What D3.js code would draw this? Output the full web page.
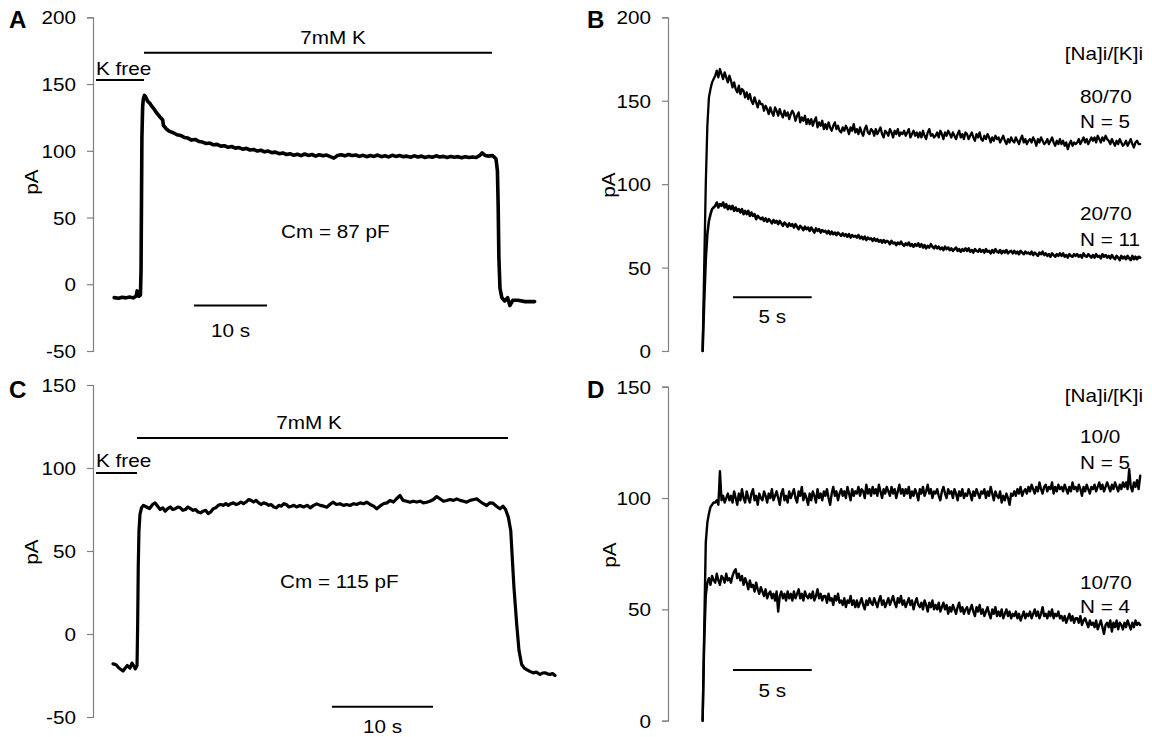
<!DOCTYPE html>
<html><head><meta charset="utf-8">
<script src="https://cdn.jsdelivr.net/npm/d3@7"></script>
<style>
body{margin:0;background:#fff;}
svg text{font-family:"Liberation Sans",Arial,sans-serif;}
</style></head><body>
<svg id="chart" width="1152" height="737"></svg>
<script>
// ---------------- DATA ----------------
// Panel A: whole-cell current (pA) vs time (s)
const traceA = [[2.9,-10],[3.5,-10.5],[4.0,-9.8],[4.5,-10.2],[5.0,-9.5],[5.5,-10.2],[5.9,-9],[6.05,-5],[6.3,-9],[6.5,-8],
[6.58,10],[6.64,60],[6.7,110],[6.8,133],[6.9,139],[7.05,141.5],[7.25,140],[7.5,137],[7.8,135.5],[8.1,133],[8.4,131],
[8.7,128.5],[9.0,126.5],[9.3,124.5],[9.55,123],[9.65,119],[9.9,117.5],
[10.0,116.5],[10.5,114.5],[11.0,113.5],[11.5,112],[12.0,111.5],[12.5,110],[13.0,109.5],[13.5,108],[14.0,108.5],[14.5,107],
[15.0,106.5],[15.5,105.5],[16.0,105.8],[16.5,104.5],[17.0,104.8],[17.5,103.5],[18.0,103.8],[18.5,102.6],[19.0,103.2],[19.5,102],
[20.0,102.4],[20.5,101.2],[21.0,101.8],[21.5,100.6],[22.0,101],[22.5,99.8],[23.0,100.4],[23.5,99.2],[24.0,99.8],[24.5,98.6],
[25.0,99],[25.5,97.8],[26.0,98.4],[26.5,97.2],[27.0,97.8],[27.5,96.6],[28.0,97.4],[28.5,96.4],[29.0,97.6],[29.5,96.5],
[30.0,97.2],[30.5,96],[31.0,97],[31.5,96.2],[32.0,96.8],[32.5,95.6],[33.0,94.5],[33.5,96.4],[34.0,97],[34.5,96.2],
[35.0,97.2],[35.5,96.4],[36.0,96.8],[36.5,95.8],[37.0,96.6],[37.5,95.6],[38.0,96.4],[38.5,95.8],[39.0,96.8],[39.5,95.6],
[40.0,96.2],[40.5,95.4],[41.0,96.6],[41.5,95.8],[42.0,96.4],[42.5,95.6],[43.0,96],[43.5,95.2],[44.0,96.2],[44.5,95.4],
[45.0,96],[45.5,95],[46.0,95.8],[46.5,95.2],[47.0,96.2],[47.5,95.4],[48.0,95.8],[48.5,95],[49.0,95.8],[49.5,95.2],
[50.0,95.6],[50.5,94.8],[51.0,95.6],[51.5,95],[52.0,95.4],[52.5,95],[53.0,96.5],[53.3,98.5],[53.7,96.5],[54.2,96],
[54.7,96.5],[55.2,94],[55.4,85],[55.5,60],[55.6,20],[55.75,-3],[56.0,-10],[56.4,-12.5],[56.8,-10],[57.1,-16],
[57.5,-12],[58.2,-12],[59.2,-13],[60.5,-13]];

// Panel C
const traceC = [[1.98,-18],[2.28,-18.5],[2.57,-20.5],[2.97,-22.3],[3.2,-20.5],[3.4,-19],[3.66,-20.5],[3.86,-17.5],[4.06,-19.5],[4.2,-21],
[4.36,-19],[4.42,5],[4.48,40],[4.55,62],[4.65,72],[4.8,76],[5.0,77.5],[5.3,76.5],[5.6,75.5],[5.9,78],
[6.15,79],[6.4,77],[6.65,75],[6.9,76],[7.15,74],[7.4,75.5],[7.65,76.5],[7.9,75],[8.15,75.5],[8.4,76.5],
[8.65,76],[8.9,74.5],[9.15,75],[9.4,76.5],[9.65,75.5],[9.9,74.5],[10.15,75],[10.4,73.5],[10.65,73],[10.9,74],
[11.15,74.5],[11.4,72.5],[11.65,73.5],[11.9,75.5],[12.15,76],[12.4,77.5],[12.65,78],[12.9,77.5],[13.15,78.5],[13.4,77.5],
[13.65,78.5],[13.9,79],[14.15,78],[14.4,78.5],[14.65,79.5],[14.9,78.5],[15.15,79.5],[15.4,81],[15.65,80.5],[15.9,79.5],
[16.15,80.5],[16.4,79],[16.65,78],[16.9,79],[17.15,78.5],[17.4,77.5],[17.65,78],[17.9,76.5],[18.15,76],[18.4,77.5],
[18.65,77],[18.9,78.5],[19.15,78],[19.4,76.5],[19.65,77],[19.9,77.5],[20.15,76.5],[20.5,77.4],[20.85,76.5],[21.2,77.5],
[21.5,76],[21.85,77.5],[22.15,78.4],[22.5,77.5],[22.85,77],[23.14,76.4],[23.45,78],[23.76,79.4],[24.1,78],[24.45,78.5],
[24.8,77.5],[25.1,78],[25.45,77.4],[25.8,78.5],[26.1,78],[26.45,79],[26.8,78.5],[27.1,79.4],[27.45,78],[27.8,77],
[28.09,75.4],[28.4,77],[28.75,78.5],[29.1,79],[29.41,80.4],[29.75,79.5],[30.05,81.5],[30.4,83.4],[30.7,80.5],[31.05,80],
[31.39,79.4],[31.7,80],[32.05,79.5],[32.4,80],[32.7,79],[33.04,79.4],[33.35,80],[33.7,81],[34.03,82.8],[34.35,81.5],
[34.7,80],[35.02,80.4],[35.35,81],[35.7,80.5],[36.01,81.4],[36.35,80.5],[36.7,80],[37.0,79.4],[37.35,80.5],[37.7,81],
[37.99,81.4],[38.3,80],[38.65,78.5],[38.98,77.4],[39.3,79],[39.6,78.8],[39.95,77],[40.3,75.4],[40.59,77],[40.85,75],
[41.12,70.4],[41.36,62.4],[41.51,46],[41.68,28],[41.95,6],[42.18,-10],[42.44,-18.4],[42.7,-20.5],[42.94,-21.4],[43.25,-22.5],
[43.59,-23.4],[43.9,-23],[44.26,-24.4],[44.5,-23.5],[44.75,-23.4],[45.0,-24],[45.25,-24.4],[45.5,-23.8],[45.74,-25]];

// Panels B and D: mean traces sampled every 0.1 s starting at 2.2 s
const sampleStart = 2.2, sampleStep = 0.1;
const traceB8070 = [0,50,100,135,152,157,161,163,
165,168,164,169,166,163,167,164,161,165,
162,158,161,157,155,159,154,157,156,152,
155,151,154,150,148,152,149,146,150,148,
148,144,147,145,142,146,143,141,146,144,
141,145,142,140,144,141,143,139,142,144,
142,138,141,143,137,140,138,141,136,139,
136,139,135,138,140,134,137,135,138,133,
136,133,137,134,132,135,137,133,135,132,
131,134,132,135,133,130,134,132,136,131,
133,130,134,131,129,133,135,131,130,133,
132,129,133,130,132,134,130,128,132,131,
129,133,131,128,132,130,133,129,131,130,
132,129,131,133,128,130,132,129,131,128,
131,128,132,129,127,131,133,129,130,128,
129,131,128,132,130,127,131,129,132,130,
128,131,129,127,130,132,128,130,127,131,
130,127,129,131,128,126,130,128,131,127,
126,129,127,130,128,125,128,126,129,127,
128,125,127,129,126,124,127,125,128,126,
125,128,126,124,127,129,125,127,124,126,
127,125,128,126,123,127,125,128,126,124,
125,127,124,126,128,125,123,126,124,127,
124,126,123,125,121,124,126,123,125,124,
125,127,124,126,128,125,127,124,126,128,
126,128,125,129,127,125,128,126,129,127,
126,124,127,125,123,126,124,127,125,123,
124,126,123,125,127,124,122,125,126,124,
124];
const traceB2070 = [0,30,55,70,78,82,85,86,
87,89,86,88,87,89,86,88,85,87,
85,87,84,86,84,85,83,85,82,84,
82,84,81,83,81,82,79,81,80,79,
80,78,79.5,77.5,79,78,76.5,78.5,77,78,
76,78,76.5,75,77,76,74.5,76.5,75,76,
74,76,74.5,73,75,74,72.5,74.5,73,74,
72,74,72.5,71,73.5,72,73,71,72.5,71.5,
72,70.5,72,70,71.5,70,71,69.5,71,70,
69,70.5,69,70,68.5,70,68,69.5,68.5,69,
68,69.5,67.5,68.5,67,68.5,66.5,68,67,67.5,
66,67.5,66,67,65.5,66.5,65,66.5,65,66,
65.5,64,66,64.5,65,63.5,65,64,65.5,64,
63,64.5,63.5,65,63,64,62.5,64,63,64.5,
62.5,64,62,63.5,61.5,63,62,64,62.5,61.5,
63,61.5,62.5,61,62,60.5,62.5,61,62,60.5,
61.5,60,61,62,60,61,59.5,61,60,61.5,
60,61.5,59.5,60.5,59,61,60,59.5,61,59.5,
60.5,59,61,59.5,60,58.5,60.5,59,61,59.5,
59,60.5,58.5,60,59,60.5,58.5,59.5,60,58.5,
60,58.5,59.5,58,60,59,58,59.5,58.5,59,
58,59.5,57.5,59,58,57,59,58,59.5,57.5,
58.5,57,58,56.5,58.5,57.5,56.5,58,57,58.5,
57,58.5,56.5,57.5,56,58,57,56.5,58,57,
58,56.5,57.5,56,58.5,57,56.5,58,57,56,
57.5,56,58,56.5,57,55.5,58,56.5,57.5,56,
57,55.5,57.5,56,55,57,56,54.5,57,55.5,
56.5,55,57,55.5,54.5,57,55,56.5,55,56.5,
56];
const traceD100 = [0,40,80,89,93,96,97,98,
98,99,97,112,99,101,98,100,102,99,
101,98,103,100,97,102,99,104,100,98,
103,100,98,102,104,99,101,97,102,100,
99,103,101,98,102,100,104,99,101,103,
100,97,102,104,99,101,98,103,100,102,
104,100,98,103,101,105,99,102,100,97,
102,99,103,101,98,104,100,102,99,103,
101,104,100,97,102,105,101,103,99,102,
104,101,103,100,105,102,99,104,101,103,
102,105,101,104,103,100,106,102,104,101,
105,102,104,101,106,103,100,104,102,105,
103,101,105,102,104,100,103,106,102,104,
101,104,102,105,100,103,101,104,102,99,
104,102,105,101,103,106,102,104,100,103,
102,104,101,99,103,105,102,100,104,102,
103,100,104,102,99,103,101,104,100,102,
101,104,102,99,103,101,104,102,100,103,
102,104,100,103,101,105,102,99,103,101,
100,103,98,101,99,102,100,97,102,101,
103,101,104,102,105,101,103,104,102,105,
103,106,104,102,105,103,107,104,102,105,
106,103,105,104,107,102,105,103,106,104,
105,103,106,104,102,105,103,107,104,105,
103,106,104,101,105,103,106,104,102,105,
104,106,103,105,107,104,106,103,105,107,
105,103,106,104,107,105,103,106,104,107,
105,107,104,113,105,103,107,105,108,104,
110];
const traceD1070 = [0,35,56,62,64,61,65,63,
62,66,63,61,65,64,62,66,63,64,
62,65,67,68,64,66,63,65,61,64,
62,59,63,60,61,58,62,59,57,60,
58,56,59,55,57,58,55,57,54,58,
49,56,58,55,57,54,58,55,57,54,
58,55,57,59,55,57,54,58,56,55,
57,55,58,54,56,59,55,57,54,56,
56,53,57,54,55,52,56,54,57,53,
54,52,55,51,54,53,56,52,54,51,
54,51,53,55,52,50,54,52,55,53,
52,55,53,51,54,56,52,54,51,53,
55,52,54,56,53,51,55,53,56,52,
54,51,53,55,52,54,50,53,55,52,
51,53,50,54,52,49,53,51,54,50,
52,50,53,49,51,53,50,52,48,51,
49,52,50,48,51,53,49,51,48,50,
51,48,50,52,49,47,51,49,52,48,
50,47,49,51,48,46,50,48,51,47,
49,47,50,46,48,50,47,49,46,48,
47,49,46,48,45,47,49,46,48,47,
49,46,48,50,47,49,46,48,51,47,
48,46,49,47,50,46,48,47,49,46,
47,45,47,44,46,48,45,47,44,46,
46,44,47,43,45,46,44,42,45,43,
44,42,45,41,43,45,42,39,43,44,
42,45,40,44,42,45,41,44,43,41,
44,42,45,43,41,44,42,45,43,44,
43];

// axis ticks
const ticksA = [-50,0,50,100,150,200];
const ticksB = [0,50,100,150,200];
const ticksC = [-50,0,50,100,150];
const ticksD = [0,50,100,150];

// solution bars [start s, end s, level pA] and time scale bars [start s, length s, level pA]
const kFreeA = [0.41, 6.99, 153], k7A = [6.99, 54.66, 173.5];
const kFreeC = [0.3, 4.36, 97],  k7C = [4.36, 41.09, 118];
const scaleA = [13.84, 10, -16], scaleC = [23.66, 10, -43.8];
const scaleB = [4.13, 5, 32.2], scaleD = [4.13, 5, 22.8];

// text
const labelsB = ["[Na]i/[K]i", "80/70", "N = 5", "20/70", "N = 11"];
const labelsD = ["[Na]i/[K]i", "10/0", "N = 5", "10/70", "N = 4"];

// ---------------- DRAW ----------------
const svg = d3.select("#chart");
const SX = 1.15, FS = 18;

function txt(x, y, s, anchor, opts = {}) {
  return svg.append("text")
    .attr("transform", `translate(${x},${y}) scale(${opts.sx || SX},1)`)
    .attr("text-anchor", anchor || "start")
    .attr("font-size", opts.fs || FS)
    .attr("font-weight", opts.bold ? "bold" : "normal")
    .attr("fill", "#000")
    .text(s);
}

function axis(x0, y, ticks) {
  const g = svg.append("g").attr("transform", `translate(${x0},0)`)
    .call(d3.axisLeft(y).tickValues(ticks).tickSize(6).tickSizeOuter(6).tickPadding(11).tickFormat(d => String(d)));
  g.attr("font-family", null).attr("font-size", null);
  g.selectAll("path, line").attr("stroke", "#808080").attr("stroke-width", 1.2);
  g.selectAll("text").attr("font-size", FS).attr("fill", "#000")
    .attr("x", -17 / SX).attr("dy", "0.36em").attr("transform", `scale(${SX},1)`);
}

function yLabel(x, y) {
  svg.append("text").attr("transform", `translate(${x},${y}) rotate(-90) scale(${SX},1)`)
    .attr("text-anchor", "middle").attr("font-size", FS).attr("fill", "#000").text("pA");
}

function trace(pairs, x, y, w) {
  svg.append("path").datum(pairs)
    .attr("d", d3.line().x(d => x(d[0])).y(d => y(d[1])))
    .attr("fill", "none").attr("stroke", "#000").attr("stroke-width", w)
    .attr("stroke-linejoin", "round").attr("stroke-linecap", "round");
}
const sampled = vals => vals.map((v, i) => [sampleStart + i * sampleStep, v]);

function hbar(x, y, b, w) {
  svg.append("line").attr("x1", x(b[0])).attr("x2", x(b[1]))
    .attr("y1", y(b[2])).attr("y2", y(b[2]))
    .attr("stroke", "#000").attr("stroke-width", w || 2);
}
function sbar(x, y, b) { hbar(x, y, [b[0], b[0] + b[1], b[2]], 2); }

const LET = {bold: true, fs: 23, sx: 1.05};

// ---- Panel A ----
const xA = d3.scaleLinear().domain([0, 62]).range([93, 93 + 62 * 7.3]);
const yA = d3.scaleLinear().domain([-50, 200]).range([351, 17.3]);
axis(93, yA, ticksA);
yLabel(38, 182);
hbar(xA, yA, kFreeA); hbar(xA, yA, k7A);
sbar(xA, yA, scaleA);
trace(traceA, xA, yA, 3.6);
txt(9, 28, "A", "start", LET);
txt(96, 75, "K free", "start");
txt(333, 44, "7mM K", "middle");
txt(281, 238, "Cm = 87 pF", "start");
txt(xA(scaleA[0] + scaleA[1] / 2), 337, "10 s", "middle");

// ---- Panel B ----
const xB = d3.scaleLinear().domain([0, 31]).range([668, 668 + 31 * 15.74]);
const yB = d3.scaleLinear().domain([0, 200]).range([351, 17.3]);
axis(668, yB, ticksB);
yLabel(615, 185);
trace(sampled(traceB8070), xB, yB, 2.3);
trace(sampled(traceB2070), xB, yB, 2.6);
sbar(xB, yB, scaleB);
txt(xB(scaleB[0] + scaleB[1] / 2), 323, "5 s", "middle");
txt(587, 28, "B", "start", LET);
txt(1143, 60, labelsB[0], "end");
txt(1080, 103, labelsB[1], "start");
txt(1080, 128, labelsB[2], "start");
txt(1080, 220, labelsB[3], "start");
txt(1080, 245.5, labelsB[4], "start");

// ---- Panel C ----
const xC = d3.scaleLinear().domain([0, 46]).range([93, 93 + 46 * 10.1]);
const yC = d3.scaleLinear().domain([-50, 150]).range([717, 385]);
axis(93, yC, ticksC);
yLabel(38, 552);
hbar(xC, yC, kFreeC); hbar(xC, yC, k7C);
sbar(xC, yC, scaleC);
trace(traceC, xC, yC, 3.2);
txt(9, 398, "C", "start", LET);
txt(96, 467, "K free", "start");
txt(309, 429, "7mM K", "middle");
txt(280, 588, "Cm = 115 pF", "start");
txt(xC(scaleC[0] + scaleC[1] / 2), 733, "10 s", "middle");

// ---- Panel D ----
const xD = d3.scaleLinear().domain([0, 31]).range([668, 668 + 31 * 15.74]);
const yD = d3.scaleLinear().domain([0, 150]).range([720.7, 386.7]);
axis(668, yD, ticksD);
yLabel(616, 555);
trace(sampled(traceD100), xD, yD, 2.4);
trace(sampled(traceD1070), xD, yD, 2.4);
sbar(xD, yD, scaleD);
txt(xD(scaleD[0] + scaleD[1] / 2), 697, "5 s", "middle");
txt(587, 398, "D", "start", LET);
txt(1143, 402, labelsD[0], "end");
txt(1080, 443, labelsD[1], "start");
txt(1080, 469, labelsD[2], "start");
txt(1080, 589, labelsD[3], "start");
txt(1080, 613, labelsD[4], "start");
</script>
</body></html>
